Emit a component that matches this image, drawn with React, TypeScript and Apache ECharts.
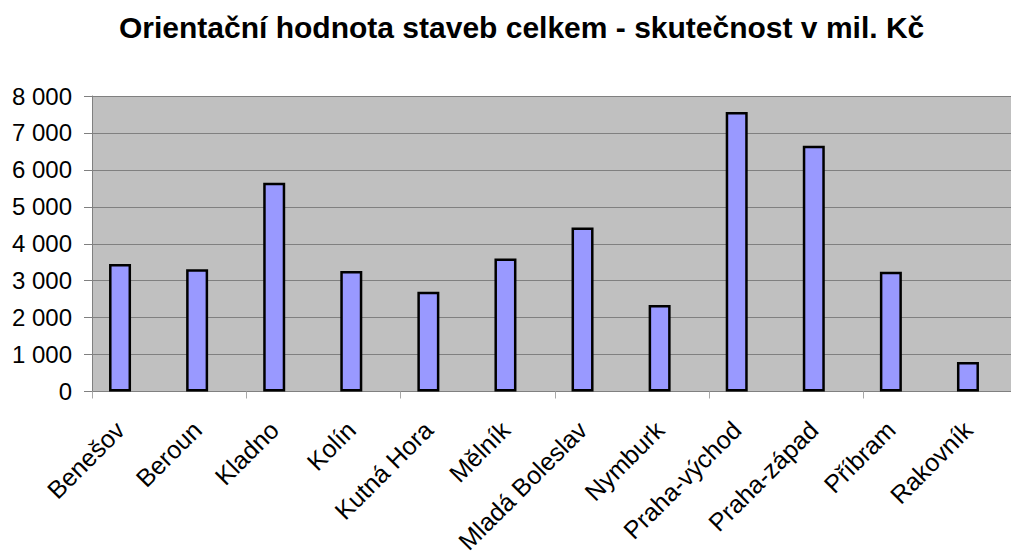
import React, { useEffect, useRef } from "react";
import * as echarts from "echarts";

const titleText = "Orientační hodnota staveb celkem - skutečnost v mil. Kč";
const categories = [
  "Benešov",
  "Beroun",
  "Kladno",
  "Kolín",
  "Kutná Hora",
  "Mělník",
  "Mladá Boleslav",
  "Nymburk",
  "Praha-východ",
  "Praha-západ",
  "Příbram",
  "Rakovník",
];
const values = [3450, 3310, 5650, 3260, 2700, 3600, 4440, 2340, 7570, 6650, 3240, 800];
const yMin = 0;
const yMax = 8000;
const yStep = 1000;

const fmt = (v: number) => {
  const s = String(Math.round(v));
  return s.replace(/\B(?=(\d{3})+(?!\d))/g, " ");
};

export default function App() {
  const ref = useRef<HTMLDivElement>(null);
  useEffect(() => {
    if (!ref.current) return;
    const chart = echarts.init(ref.current, null, { renderer: "svg" });
    const font = "Liberation Sans, Arial, sans-serif";
    chart.setOption({
      animation: false,
      backgroundColor: "#ffffff",
      title: {
        text: titleText,
        left: 114,
        top: 7,
        textStyle: { fontFamily: font, fontSize: 30, fontWeight: "bold", color: "#000" },
      },
      grid: [
        {
          left: 92,
          right: -7,
          top: 96,
          bottom: 159.5,
          show: true,
          backgroundColor: "#c0c0c0",
          borderWidth: 0,
          containLabel: false,
          outerBoundsMode: "none",
        },
        {
          left: 81.5,
          width: 925,
          top: 96,
          bottom: 159.5,
          show: false,
          containLabel: false,
          outerBoundsMode: "none",
        },
      ],
      xAxis: [
        {
          type: "category",
          gridIndex: 0,
          data: categories,
          axisLine: { show: true, lineStyle: { color: "#808080", width: 1 } },
          axisTick: { show: true, length: 7, lineStyle: { color: "#a8a8a8" } },
          axisLabel: { show: false },
        },
        {
          type: "category",
          gridIndex: 1,
          data: categories,
          axisLine: { show: false },
          axisTick: { show: false },
          axisLabel: {
            show: true,
            rotate: 45,
            margin: 34,
            interval: 0,
            fontFamily: font,
            fontSize: 25,
            color: "#000",
          },
        },
      ],
      yAxis: [
        {
          type: "value",
          gridIndex: 0,
          min: yMin,
          max: yMax,
          interval: yStep,
          axisLine: { show: true, lineStyle: { color: "#808080", width: 1 } },
          axisTick: { show: true, length: 8, lineStyle: { color: "#808080" } },
          splitLine: { show: true, lineStyle: { color: "#808080", width: 1 } },
          axisLabel: {
            margin: 20,
            fontFamily: font,
            fontSize: 24,
            color: "#000",
            formatter: (v: number) => fmt(v),
          },
        },
        {
          type: "value",
          gridIndex: 1,
          min: yMin,
          max: yMax,
          interval: yStep,
          show: false,
          splitLine: { show: false },
        },
      ],
      series: [
        {
          type: "bar",
          xAxisIndex: 1,
          yAxisIndex: 1,
          data: values,
          barWidth: 22,
          itemStyle: { color: "#9999ff", borderColor: "#000000", borderWidth: 2.5 },
        },
      ],
    });
    return () => chart.dispose();
  }, []);
  return (
    <div
      ref={ref}
      style={{ position: "absolute", left: 0, top: 0, width: 1011, height: 551 }}
    />
  );
}
